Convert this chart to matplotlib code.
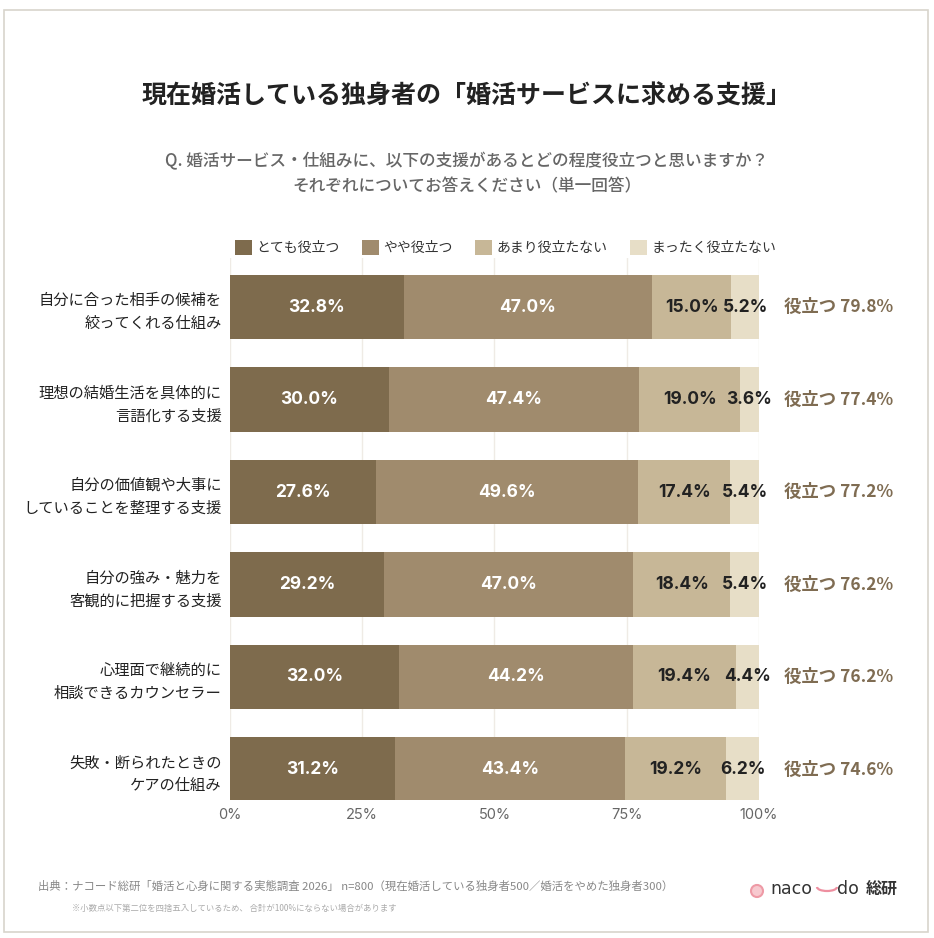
import numpy as np
import matplotlib.pyplot as plt
from matplotlib.patches import Rectangle, Circle, Arc

plt.rcParams['font.family'] = ['Noto Sans CJK JP', 'DejaVu Sans']

# data
categories = [
    '自分に合った相手の候補を\n絞ってくれる仕組み',
    '理想の結婚生活を具体的に\n言語化する支援',
    '自分の価値観や大事に\nしていることを整理する支援',
    '自分の強み・魅力を\n客観的に把握する支援',
    '心理面で継続的に\n相談できるカウンセラー',
    '失敗・断られたときの\nケアの仕組み',
]
series_names = ['とても役立つ', 'やや役立つ', 'あまり役立たない', 'まったく役立たない']
very = [32.8, 30.0, 27.6, 29.2, 32.0, 31.2]
somewhat = [47.0, 47.4, 49.6, 47.0, 44.2, 43.4]
not_much = [15.0, 19.0, 17.4, 18.4, 19.4, 19.2]
not_at_all = [5.2, 3.6, 5.4, 5.4, 4.4, 6.2]
useful_total = [79.8, 77.4, 77.2, 76.2, 76.2, 74.6]
xticks = [0, 25, 50, 75, 100]

colors = ['#7e6b4d', '#a08b6d', '#c7b797', '#e7dec7']
text_colors = ['white', 'white', '#222222', '#222222']
num_font = ['Inter', 'Noto Sans CJK JP']

W, H = 934, 938
fig = plt.figure(figsize=(W / 100, H / 100), dpi=100)
fig.patch.set_facecolor('white')

# outer frame
fig.patches.append(Rectangle((4 / W, 6 / H), 924 / W, 922 / H, transform=fig.transFigure,
                             fill=False, edgecolor='#d8d4cc', linewidth=1.2))

ax = fig.add_axes([230 / W, 1 - 800 / H, 529 / W, 542 / H])

y = np.arange(len(categories))
series = [very, somewhat, not_much, not_at_all]
left = np.zeros(len(categories))
for vals, name, col, tcol in zip(series, series_names, colors, text_colors):
    vals = np.array(vals)
    ax.barh(y, vals, left=left, height=0.7, color=col, label=name, zorder=2)
    for yi, l, v in zip(y, left, vals):
        ax.text(l + v / 2, yi, f'{v:.1f}%', ha='center', va='center', color=tcol,
                fontsize=12.5, fontweight='bold', family=num_font, zorder=3)
    left = left + vals

for yi, t in zip(y, useful_total):
    ax.text(104.8, yi, f'役立つ {t:.1f}%', ha='left', va='center', color='#7f6c52',
            fontsize=12.5, fontweight='bold', family=['Noto Sans CJK JP'], clip_on=False)

ax.set_xlim(0, 100)
ax.set_ylim(5.33, -0.53)
ax.set_xticks(xticks)
ax.set_xticklabels([f'{v}%' for v in xticks], fontsize=10.5, color='#666666', family=num_font)
ax.set_yticks(y)
ax.set_yticklabels(categories, fontsize=11, color='#222222', linespacing=1.45)
ax.tick_params(axis='both', length=0)
ax.tick_params(axis='x', pad=6)
ax.tick_params(axis='y', pad=6)
ax.grid(axis='x', color='#efebe5', linewidth=1, zorder=0)
ax.set_axisbelow(True)
for s in ax.spines.values():
    s.set_visible(False)

leg = ax.legend(loc='lower left', bbox_to_anchor=(5 / 529, 1.005), ncol=4, frameon=False,
                handlelength=1.2, handleheight=1.2, handletextpad=0.35, columnspacing=1.6,
                fontsize=10, borderaxespad=0, borderpad=0)
for t in leg.get_texts():
    t.set_color('#333333')

fig.text(0.5, 1 - 97 / H, '現在婚活している独身者の「婚活サービスに求める支援」', ha='center', va='center',
         fontsize=18, fontweight='bold', color='#222222')
fig.text(0.5, 1 - 161 / H, 'Q. 婚活サービス・仕組みに、以下の支援があるとどの程度役立つと思いますか？',
         ha='center', va='center', fontsize=12, fontweight='medium', color='#666666')
fig.text(0.5, 1 - 186 / H, 'それぞれについてお答えください（単一回答）',
         ha='center', va='center', fontsize=12, fontweight='medium', color='#666666')

fig.text(38 / W, 1 - 886 / H,
         '出典：ナコード総研「婚活と心身に関する実態調査 2026」 n=800（現在婚活している独身者500／婚活をやめた独身者300）',
         ha='left', va='center', fontsize=8.2, color='#888888')
fig.text(72 / W, 1 - 908 / H, '※小数点以下第二位を四捨五入しているため、 合計が100%にならない場合があります',
         ha='left', va='center', fontsize=6.0, color='#aaaaaa')

# logo
fig.patches.append(Circle((757 / W, 1 - 891 / H), 6 / W, transform=fig.transFigure,
                          facecolor='#f7c9cf', edgecolor='#ee9aa6', linewidth=1.5))
fig.text(770 / W, 1 - 889 / H, 'naco', ha='left', va='center', fontsize=12.5,
         color='#333333', family=['DejaVu Sans'])
fig.patches.append(Arc((827 / W, 1 - 887 / H), 20 / W, 8 / H, theta1=180, theta2=360,
                       transform=fig.transFigure, color='#ee8fa0', linewidth=1.6))
fig.text(837 / W, 1 - 889 / H, 'do', ha='left', va='center', fontsize=12.5,
         color='#333333', family=['DejaVu Sans'])
fig.text(866 / W, 1 - 889 / H, '総研', ha='left', va='center', fontsize=11.5,
         fontweight='bold', color='#333333')

fig.savefig('out.png', dpi=100, facecolor='white')
